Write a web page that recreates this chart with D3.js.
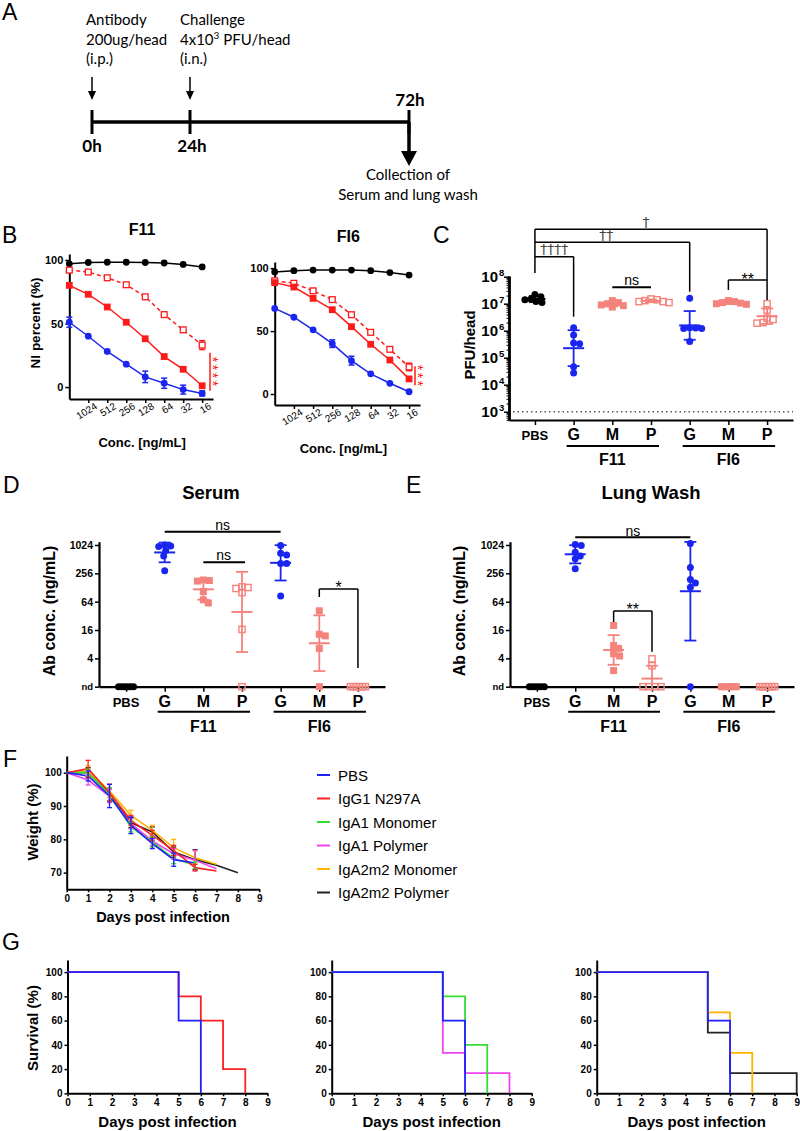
<!DOCTYPE html>
<html><head><meta charset="utf-8">
<script src="https://cdn.jsdelivr.net/npm/d3@7"></script>
<style>body{margin:0;background:#fff}</style>
</head><body>
<script>
// ================= DATA =================
// Panel A timeline (hours)
const timeHours = [0, 24, 72];
const timeLabels = ["0h", "24h", "72h"];

// Panel B (NI percent) concentration categories
const concLabels = ["2048","1024","512","256","128","64","32","16"];
const f11_black   = [97, 98, 98.2, 98.2, 98, 97.6, 96.5, 94.5];
const f11_open    = [92, 90.5, 86, 80.5, 71, 57, 45, 33];
const f11_open_sd = [1.5, 1, 1, 1, 1, 1, 1, 3.5];
const f11_filled  = [80, 73, 63, 51, 38, 24, 14, 1];
const f11_blue    = [51, 40, 28, 18, 8, 3, -2, -5];
const f11_blue_sd = [4, 1, 1, 1, 4.5, 4, 3.5, 2];
const fi6_black   = [97, 98, 98.5, 98.5, 98.5, 98, 96.5, 94.5];
const fi6_open    = [90, 88, 82, 75, 63, 49, 35.5, 21.5];
const fi6_open_sd = [1, 1, 1, 1, 1, 1, 1, 3];
const fi6_filled  = [88.5, 85, 76, 67, 53.5, 39.5, 27, 12];
const fi6_blue    = [68, 61, 51, 40, 26.5, 16, 8.5, 1.8];
const fi6_blue_sd = [1, 1, 1, 3, 3.5, 1, 1, 1];

// Panels C-E categories
const cats = ["PBS","F11 G","F11 M","F11 P","FI6 G","FI6 M","FI6 P"];
const catLabels = ["PBS","G","M","P","G","M","P"];
const groupNames = ["F11","FI6"];

// Panel C: lung virus titer (PFU/head)
const pfu_PBS  = [2.2e7, 1.8e7, 1.5e7, 1.4e7, 1.2e7, 1.1e7];
const pfu_F11G = [1.3e6, 7e5, 3.5e5, 3.3e5, 4.6e4, 2.7e4];
const pfu_F11M = [1.3e7, 1.1e7, 1.0e7, 9e6, 8.5e6, 7.5e6];
const pfu_F11P = [1.5e7, 1.4e7, 1.3e7, 1.2e7, 1.2e7, 1.1e7];
const pfu_FI6G = [1.6e7, 1.3e6, 1.25e6, 1.2e6, 1.2e6, 4e5];
const pfu_FI6M = [1.3e7, 1.2e7, 1.1e7, 1.05e7, 1.0e7, 9.5e6];
const pfu_FI6P = [1.0e7, 5.8e6, 2.9e6, 2.6e6, 2.0e6, 1.9e6];

// Panel D: serum antibody (ng/mL), "nd" = not detected
const serum_PBS  = ["nd","nd","nd","nd","nd","nd"];
const serum_F11G = [1024, 980, 950, 780, 600, 290];
const serum_F11M = [185, 175, 180, 105, 60, 70];
const serum_F11P = [132, 128, 122, 100, 16.5, "nd"];
const serum_FI6G = [1000, 680, 625, 415, 415, 84];
const serum_FI6M = [41, 13, 12, 6.5, "nd"];
const serum_FI6P = ["nd","nd","nd","nd","nd","nd"];

// Panel E: lung wash antibody (ng/mL)
const lung_PBS  = ["nd","nd","nd","nd","nd","nd"];
const lung_F11G = [1050, 1000, 720, 600, 520, 320];
const lung_F11M = [20, 7.5, 6.5, 5, 4.5, 2.2];
const lung_F11P = [3.9, 2.8, "nd","nd","nd","nd"];
const lung_FI6G = [1100, 340, 190, 160, 130, "nd"];
const lung_FI6M = ["nd","nd","nd","nd","nd","nd"];
const lung_FI6P = ["nd","nd","nd","nd","nd","nd"];

// Panel F: weight (%) by day
const seriesNames = ["PBS","IgG1 N297A","IgA1 Monomer","IgA1 Polymer","IgA2m2 Monomer","IgA2m2 Polymer"];
const w_PBS  = [100, 99, 93, 84.2, 78.7, 73.9, 72.9];
const w_IgG1 = [100, 101.2, 94, 85.7, 81.2, 76.7, 71.5, 70.5];
const w_A1M  = [100, 100, 93.5, 83.7, 79.2, 74.2, 72.2];
const w_A1P  = [100, 97.8, 93, 84.7, 79.5, 75.7, 73.7, 71.2];
const w_A2M  = [100, 100.5, 94.5, 87.2, 82.7, 77.5, 74.5, 72.5];
const w_A2P  = [100, 100, 93.5, 85, 82.2, 76.2, 73.9, 72.2, 70];
const sd_PBS  = [0, 1.5, 3.5, 2.5, 1.5, 2, 0];
const sd_IgG1 = [0, 2.5, 2.5, 1.5, 1.5, 1.5, 1, 0];
const sd_A1M  = [0, 1, 2, 1.5, 1.5, 1.5, 1];
const sd_A1P  = [0, 1.5, 2, 1.5, 1.5, 1.5, 3, 0];
const sd_A2M  = [0, 1.5, 2, 1.5, 1.5, 2.5, 2, 0];
const sd_A2P  = [0, 1.5, 2, 1.5, 1.5, 1.5, 3, 0, 0];

// Panel G: survival (%) step points [day, percent]
const surv_PBS  = [[0,100],[5,60],[6,0]];
const surv_IgG1 = [[0,100],[5,80],[6,60],[7,20],[8,0]];
const surv_A1M  = [[0,100],[5,80],[6,40],[7,0]];
const surv_A1P  = [[0,100],[5,33.3],[6,16.7],[8,0]];
const surv_A2M  = [[0,100],[5,66.7],[6,33.3],[7,0]];
const surv_A2P  = [[0,100],[5,50],[6,16.7],[9,0]];

// ================= DRAWING =================
const FONT = "'Liberation Sans', Arial, sans-serif";
const FA = "Lato, 'Open Sans', sans-serif";
const BLUE = "#1a26f0", RED = "#ff1a1a", PINK = "#f4837d";
const COLORS = ["#1f1fff", "#ff2020", "#33dd33", "#ee44ee", "#ffb300", "#222222"];

const svg = d3.select("body").append("svg")
  .attr("width", 800).attr("height", 1131)
  .attr("font-family", FONT);

function T(x, y, s, o = {}) {
  const t = svg.append("text").attr("x", x).attr("y", y).text(s)
    .attr("font-size", o.size || 12)
    .attr("font-weight", o.bold ? "bold" : "normal")
    .attr("text-anchor", o.anchor || "start")
    .attr("fill", o.fill || "#000");
  if (o.rotate) t.attr("transform", `rotate(${o.rotate},${x},${y})`);
  if (o.family) t.attr("font-family", o.family);
  if (o.ls) t.attr("letter-spacing", o.ls);
  return t;
}
function L(x1, y1, x2, y2, o = {}) {
  const l = svg.append("line").attr("x1", x1).attr("y1", y1).attr("x2", x2).attr("y2", y2)
    .attr("stroke", o.color || "#000").attr("stroke-width", o.w || 1.5);
  if (o.dash) l.attr("stroke-dasharray", o.dash);
  return l;
}
function styleAxis(g, o = {}) {
  g.select(".domain").attr("stroke-width", o.dw || 2).attr("stroke", "#000");
  g.selectAll(".tick line").attr("stroke-width", o.tw || 1.5).attr("stroke", "#000");
  g.selectAll(".tick text").attr("font-size", o.fs || 10).attr("font-weight", o.bold === false ? "normal" : "bold")
    .attr("font-family", FONT).attr("fill", "#000");
}
function letter(x, y, s) { T(x, y, s, { size: 23 }); }

// ---------- Panel A ----------
letter(2, 20, "A");
const tx = d3.scaleLinear().domain(timeHours).range([92, 190, 409]);
const ty = 122;
T(86, 25, "Antibody", { size: 15, family: FA });
T(86, 45, "200ug/head", { size: 15, family: FA });
T(86, 64, "(i.p.)", { size: 15, family: FA });
T(180, 25, "Challenge", { size: 15, family: FA });
const ch = T(180, 45, "", { size: 15, family: FA });
ch.append("tspan").text("4x10");
ch.append("tspan").attr("dy", -6).attr("font-size", 10).text("3");
ch.append("tspan").attr("dy", 6).text(" PFU/head");
T(180, 64, "(i.n.)", { size: 15, family: FA });
[0, 24].forEach(h => {
  const x = tx(h);
  L(x, 77, x, 93, { w: 1.5 });
  svg.append("path").attr("d", `M${x-4},91 L${x+4},91 L${x},100 Z`).attr("fill", "#000");
});
L(tx(0), ty, tx(72), ty, { w: 3.5 });
timeHours.forEach(h => L(tx(h), 110, tx(h), 134, { w: 3 }));
T(tx(0), 152, timeLabels[0], { size: 17, bold: true, anchor: "middle", family: FA });
T(tx(24) + 2, 152, timeLabels[1], { size: 17, bold: true, anchor: "middle", family: FA });
T(tx(72) + 1, 106, timeLabels[2], { size: 17, bold: true, anchor: "middle", family: FA });
L(tx(72), ty, tx(72), 152, { w: 3.5 });
svg.append("path").attr("d", `M${tx(72)-8},151 L${tx(72)+8},151 L${tx(72)},166 Z`).attr("fill", "#000");
T(408, 180, "Collection of", { size: 15, anchor: "middle", family: FA });
T(408, 200, "Serum and lung wash", { size: 15, anchor: "middle", family: FA });

// ---------- Panel B ----------
letter(2, 243, "B");
function panelB(o) {
  const x = d3.scaleLinear().domain([0, 7.57]).range([o.x0, o.x1]);
  const y = d3.scaleLinear().domain(o.ydom).range([o.yb, o.yt]);
  const gy = svg.append("g").attr("transform", `translate(${o.x0},0)`)
    .call(d3.axisLeft(y).tickValues([0, 50, 100]).tickSize(4).tickSizeOuter(0).tickPadding(2));
  styleAxis(gy, { fs: 11 });
  const gx = svg.append("g").attr("transform", `translate(0,${o.yb})`)
    .call(d3.axisBottom(x).tickValues([1,2,3,4,5,6,7]).tickFormat(i => concLabels[i]).tickSize(4).tickSizeOuter(0));
  styleAxis(gx, { fs: 10, bold: false });
  gx.selectAll(".tick text").attr("text-anchor", "end").attr("x", 3).attr("y", 9).attr("dy", "0.35em")
    .attr("transform", "rotate(-32)");
  const series = [
    { v: o.black, sd: null, color: "#000", shape: "circle", dash: null },
    { v: o.open, sd: o.openSd, color: RED, shape: "open", dash: "4,3" },
    { v: o.filled, sd: null, color: RED, shape: "sq", dash: null },
    { v: o.blue, sd: o.blueSd, color: BLUE, shape: "circle", dash: null }
  ];
  const line = d3.line().x((d, i) => x(i)).y(d => y(d));
  series.forEach(s => {
    const p = svg.append("path").attr("d", line(s.v)).attr("fill", "none").attr("stroke", s.color).attr("stroke-width", 1.5);
    if (s.dash) p.attr("stroke-dasharray", s.dash);
  });
  series.forEach(s => {
    s.v.forEach((v, i) => {
      const cx = x(i), cy = y(v);
      if (s.sd && s.sd[i] > 1.5) {
        L(cx, y(v - s.sd[i]), cx, y(v + s.sd[i]), { color: s.color, w: 1.5 });
        L(cx - 3, y(v - s.sd[i]), cx + 3, y(v - s.sd[i]), { color: s.color, w: 1.5 });
        L(cx - 3, y(v + s.sd[i]), cx + 3, y(v + s.sd[i]), { color: s.color, w: 1.5 });
      }
      if (s.shape === "circle") svg.append("circle").attr("cx", cx).attr("cy", cy).attr("r", 3.4).attr("fill", s.color);
      else if (s.shape === "sq") svg.append("rect").attr("x", cx - 3.4).attr("y", cy - 3.4).attr("width", 6.8).attr("height", 6.8).attr("fill", s.color);
      else svg.append("rect").attr("x", cx - 2.9).attr("y", cy - 2.9).attr("width", 5.8).attr("height", 5.8).attr("fill", "#fff").attr("stroke", s.color).attr("stroke-width", 1.3);
    });
  });
  T((o.x0 + o.x1) / 2 + 1, o.titleY, o.title, { size: 16, bold: true, anchor: "middle" });
  T((o.x0 + o.x1) / 2 + o.concDx, o.concY, "Conc. [ng/mL]", { size: 13, bold: true, anchor: "middle" });
  // significance: vertical line + stacked (rotated) asterisks
  const y0 = y(o.sigRange[0]), y1 = y(o.sigRange[1]);
  L(o.sigX, y0, o.sigX, y1, { color: RED, w: 1.5 });
  T(o.sigX - 2.5, (y0 + y1) / 2 + 1, "*".repeat(o.stars), { size: 14, fill: RED, anchor: "middle", rotate: 90, ls: 2.6 });
  return { x, y };
}
panelB({ x0: 69.3, x1: 213, yb: 399, yt: 254, ydom: [-9.4, 104.7], black: f11_black, open: f11_open, openSd: f11_open_sd,
  filled: f11_filled, blue: f11_blue, blueSd: f11_blue_sd, title: "F11", titleY: 235, concY: 447, concDx: 1,
  sigX: 210, sigRange: [-3, 27], stars: 4 });
panelB({ x0: 274.7, x1: 420, yb: 405, yt: 262, ydom: [-8.75, 104.9], black: fi6_black, open: fi6_open, openSd: fi6_open_sd,
  filled: fi6_filled, blue: fi6_blue, blueSd: fi6_blue_sd, title: "FI6", titleY: 242, concY: 453, concDx: -4,
  sigX: 415, sigRange: [7, 22], stars: 3 });
T(40, 323, "NI percent (%)", { size: 13.5, bold: true, anchor: "middle", rotate: -90 });

// ---------- Shared scatter helpers ----------
function catColor(i) { return i === 0 ? "#000" : (i === 1 || i === 4) ? BLUE : PINK; }
function catShape(i) { return (i === 0 || i === 1 || i === 4) ? "circle" : (i === 2 || i === 5) ? "sq" : "open"; }
function marker(shape, color, cx, cy) {
  if (shape === "circle") svg.append("circle").attr("cx", cx).attr("cy", cy).attr("r", 3.5).attr("fill", color);
  else if (shape === "sq") svg.append("rect").attr("x", cx - 3.5).attr("y", cy - 3.5).attr("width", 7).attr("height", 7).attr("fill", color);
  else svg.append("rect").attr("x", cx - 3.1).attr("y", cy - 3.1).attr("width", 6.2).attr("height", 6.2).attr("fill", "none").attr("stroke", color).attr("stroke-width", 1.4);
}
function layout(vals, toY, cx, ndY) {
  const det = vals.filter(v => v !== "nd").map(v => ({ v, y: toY(v) })).sort((a, b) => a.y - b.y);
  const placed = [];
  det.forEach(p => {
    for (let k = 0; k < 80; k++) {
      const off = (k % 2 ? 1 : -1) * Math.ceil(k / 2);
      const xx = cx + off;
      if (placed.every(q => Math.hypot(q.x - xx, q.y - p.y) >= 5.6)) { p.x = xx; placed.push(p); break; }
    }
  });
  const nds = vals.filter(v => v === "nd");
  const sp = nds.length <= 4 ? 6 : 3;
  nds.forEach((v, i) => placed.push({ v, x: cx + (i - (nds.length - 1) / 2) * sp, y: ndY }));
  return placed;
}
function scatterPanel(o) {
  const x = d3.scalePoint().domain(cats).range([o.x0, o.x1]).padding(o.pad);
  const y = o.y;
  const gx = svg.append("g").attr("transform", `translate(0,${o.yb})`)
    .call(d3.axisBottom(x).tickSize(5).tickSizeOuter(0).tickFormat(""));
  styleAxis(gx, { dw: 2.2 });
  cats.forEach((c, i) => T(x(c), o.labY, catLabels[i], { size: i === 0 ? 13 : 16, bold: true, anchor: "middle" }));
  [[1, 3], [4, 6]].forEach((gi, k) => {
    L(x(cats[gi[0]]) - 7, o.ulY, x(cats[gi[1]]) + 8, o.ulY, { w: 2 });
    T(x(cats[gi[0] + 1]), o.grpY, groupNames[k], { size: 16, bold: true, anchor: "middle" });
  });
  o.groups.forEach((vals, i) => {
    const cx = x(cats[i]);
    const pts = layout(vals, v => y(v), cx, y(o.ndVal));
    pts.forEach(p => marker(catShape(i), catColor(i), p.x, p.y));
  });
  o.groups.forEach((vals, i) => {
    const cx = x(cats[i]);
    const logs = vals.map(v => v === "nd" ? Math.log(o.ndVal) / Math.log(o.base) : Math.log(v) / Math.log(o.base));
    const m = d3.mean(logs), sd = logs.length > 1 ? d3.deviation(logs) : 0;
    const col = catColor(i);
    const ym = y(Math.pow(o.base, m));
    L(cx - 10.5, ym, cx + 10.5, ym, { color: col, w: 2 });
    if (sd > 0) {
      const hi = y(Math.pow(o.base, m + sd));
      const lo = Math.min(o.yb, y(Math.max(o.ndVal, Math.pow(o.base, m - sd))));
      L(cx, hi, cx, lo, { color: col, w: 1.8 });
      L(cx - 6, hi, cx + 6, hi, { color: col, w: 1.8 });
      if (lo < o.yb - 1) L(cx - 6, lo, cx + 6, lo, { color: col, w: 1.8 });
    }
  });
  return x;
}

// ---------- Panel C ----------
letter(433, 243, "C");
const yC = d3.scaleLog().domain([Math.pow(10, 2.693), Math.pow(10, 8.026)]).range([420, 276]);
{
  const minors = [];
  for (let e = 2; e <= 7; e++) for (let m = 2; m <= 9; m++) { const v = m * Math.pow(10, e); if (v > yC.domain()[0] && v < yC.domain()[1]) minors.push(v); }
  const gm = svg.append("g").attr("transform", "translate(509,0)")
    .call(d3.axisLeft(yC).tickValues(minors).tickSize(2.5).tickSizeOuter(0).tickFormat(""));
  styleAxis(gm, { dw: 2.4, tw: 1 });
  const gM = svg.append("g").attr("transform", "translate(509,0)")
    .call(d3.axisLeft(yC).tickValues([1e3, 1e4, 1e5, 1e6, 1e7, 1e8]).tickSize(5).tickSizeOuter(0).tickFormat(""));
  styleAxis(gM, { dw: 2.4, tw: 1.5 });
  [3, 4, 5, 6, 7, 8].forEach(e => {
    const yy = yC(Math.pow(10, e));
    T(498, yy + 5, "10", { size: 15, bold: true, anchor: "end" });
    T(499, yy - 0.5, String(e), { size: 9.5, bold: true });
  });
}
L(513, yC(1e3), 793, yC(1e3), { color: "#555", w: 1.4, dash: "1.5,3" });
const xC = scatterPanel({ x0: 509, x1: 793, pad: 0.67, y: yC, yb: 420, labY: 440, ulY: 446, grpY: 465, base: 10, ndVal: 1e3,
  groups: [pfu_PBS, pfu_F11G, pfu_F11M, pfu_F11P, pfu_FI6G, pfu_FI6M, pfu_FI6P] });
T(475, 345, "PFU/head", { size: 15, bold: true, anchor: "middle", rotate: -90 });
{
  const xp = xC("PBS");
  const b1 = 256.7, b2 = 242.3, b3 = 229.3;
  const DAG = { size: 14, anchor: "middle", fill: "#444", family: "'DejaVu Sans', sans-serif" };
  L(xp, b3, xp, 273);
  L(xp, b1, xC("F11 G"), b1); L(xC("F11 G"), b1, xC("F11 G"), 316.7);
  L(xp, b2, xC("FI6 G"), b2); L(xC("FI6 G"), b2, xC("FI6 G"), 291.7);
  L(xp, b3, xC("FI6 P"), b3); L(xC("FI6 P"), b3, xC("FI6 P"), 300);
  T((xp + xC("F11 G")) / 2, b1 - 2.5, "††††", DAG);
  T((xp + xC("FI6 G")) / 2 - 6, b2 - 2.5, "††", DAG);
  T((xp + xC("FI6 P")) / 2 - 5, b3 - 2.5, "†", DAG);
  L(xC("F11 M"), 287.3, xC("F11 P"), 287.3, { w: 2 });
  T((xC("F11 M") + xC("F11 P")) / 2, 284.5, "ns", { size: 14, anchor: "middle" });
  L(xC("FI6 M"), 280, xC("FI6 P"), 280); L(xC("FI6 M"), 280, xC("FI6 M"), 290);
  T((xC("FI6 M") + xC("FI6 P")) / 2, 285, "**", { size: 16, anchor: "middle" });
}

// ---------- Panels D & E ----------
function abPanel(o) {
  const y = d3.scaleLog().base(2).domain([1, 1203]).range([686.7, 541.7]);
  const g = svg.append("g").attr("transform", `translate(${o.x0},0)`)
    .call(d3.axisLeft(y).tickValues([1, 4, 16, 64, 256, 1024]).tickSize(4).tickSizeOuter(0).tickPadding(2)
      .tickFormat(v => v === 1 ? "nd" : String(v)));
  styleAxis(g, { fs: 10.5, dw: 2.2 });
  g.selectAll(".tick text").filter(v => v === 1).attr("font-size", 9.5);
  const x = scatterPanel({ x0: o.x0, x1: o.x1, pad: 0.7, y, yb: 686.7, labY: 706.7, ulY: 711.7, grpY: 731.7, base: 2, ndVal: 1, groups: o.groups });
  T(o.labX, 611, "Ab conc. (ng/mL)", { size: 16, bold: true, anchor: "middle", rotate: -90 });
  T(o.titleX, 499, o.title, { size: 18.5, bold: true, anchor: "middle" });
  return { x, y };
}
letter(3, 493, "D");
const D = abPanel({ x0: 99, x1: 385, labX: 55, titleX: 211, title: "Serum",
  groups: [serum_PBS, serum_F11G, serum_F11M, serum_F11P, serum_FI6G, serum_FI6M, serum_FI6P] });
L(D.x("F11 G"), 531.7, D.x("FI6 G"), 531.7, { w: 2 });
T((D.x("F11 G") + D.x("FI6 G")) / 2, 529.5, "ns", { size: 14, anchor: "middle" });
L(D.x("F11 M"), 562.3, D.x("F11 P") + 3, 562.3, { w: 2 });
T((D.x("F11 M") + D.x("F11 P")) / 2 + 1, 560, "ns", { size: 14, anchor: "middle" });
L(D.x("FI6 M"), 589, D.x("FI6 P"), 589); L(D.x("FI6 M"), 589, D.x("FI6 M"), 597); L(D.x("FI6 P"), 589, D.x("FI6 P"), 668);
T((D.x("FI6 M") + D.x("FI6 P")) / 2, 593, "*", { size: 16, anchor: "middle" });

letter(406, 493, "E");
const E = abPanel({ x0: 510, x1: 794, labX: 465, titleX: 651, title: "Lung Wash",
  groups: [lung_PBS, lung_F11G, lung_F11M, lung_F11P, lung_FI6G, lung_FI6M, lung_FI6P] });
L(E.x("F11 G"), 537.3, E.x("FI6 G"), 537.3, { w: 2 });
T((E.x("F11 G") + E.x("FI6 G")) / 2, 535.5, "ns", { size: 14, anchor: "middle" });
L(E.x("F11 M"), 611, E.x("F11 P"), 611); L(E.x("F11 M"), 611, E.x("F11 M"), 622); L(E.x("F11 P"), 611, E.x("F11 P"), 651.7);
T((E.x("F11 M") + E.x("F11 P")) / 2, 615, "**", { size: 16, anchor: "middle" });

// ---------- Panel F ----------
letter(3, 767, "F");
const xF = d3.scaleLinear().domain([0, 9]).range([66.7, 259.3]);
const yF = d3.scaleLinear().domain([65, 105]).range([889.3, 756]);
{
  const gx = svg.append("g").attr("transform", "translate(0,889.3)")
    .call(d3.axisBottom(xF).ticks(9).tickSize(3).tickSizeOuter(0).tickPadding(3));
  styleAxis(gx, { fs: 10 });
  const gy = svg.append("g").attr("transform", "translate(66.7,0)")
    .call(d3.axisLeft(yF).tickValues([70, 80, 90, 100]).tickSize(3).tickSizeOuter(0).tickPadding(2));
  styleAxis(gy, { fs: 10 });
  const wts = [w_PBS, w_IgG1, w_A1M, w_A1P, w_A2M, w_A2P];
  const sds = [sd_PBS, sd_IgG1, sd_A1M, sd_A1P, sd_A2M, sd_A2P];
  const line = d3.line().x((d, i) => xF(i)).y(d => yF(d));
  const order = [5, 4, 3, 2, 1, 0];
  order.forEach(k => {
    svg.append("path").attr("d", line(wts[k])).attr("fill", "none").attr("stroke", COLORS[k]).attr("stroke-width", 1.6);
  });
  order.forEach(k => {
    wts[k].forEach((v, i) => {
      const s = sds[k][i]; if (!s) return;
      const cx = xF(i);
      L(cx, yF(v - s), cx, yF(v + s), { color: COLORS[k], w: 1.3 });
      L(cx - 2.5, yF(v - s), cx + 2.5, yF(v - s), { color: COLORS[k], w: 1.3 });
      L(cx - 2.5, yF(v + s), cx + 2.5, yF(v + s), { color: COLORS[k], w: 1.3 });
    });
  });
  T(163, 921.7, "Days post infection", { size: 14.5, bold: true, anchor: "middle" });
  T(38, 822, "Weight (%)", { size: 15, bold: true, anchor: "middle", rotate: -90 });
  seriesNames.forEach((n, k) => {
    const yy = 775 + k * 23.5;
    L(317, yy, 330, yy, { color: COLORS[k], w: 2 });
    T(338, yy + 5.5, n, { size: 15 });
  });
}

// ---------- Panel G ----------
letter(2, 950, "G");
const yG = d3.scaleLinear().domain([0, 110]).range([1093.3, 960]);
function survPanel(x0, series) {
  const x = d3.scaleLinear().domain([0, 9]).range([x0, x0 + 200]);
  const gx = svg.append("g").attr("transform", "translate(0,1093.3)")
    .call(d3.axisBottom(x).ticks(9).tickSize(3).tickSizeOuter(0).tickPadding(3));
  styleAxis(gx, { fs: 10 });
  const gy = svg.append("g").attr("transform", `translate(${x0},0)`)
    .call(d3.axisLeft(yG).tickValues([0, 20, 40, 60, 80, 100]).tickSize(3).tickSizeOuter(0).tickPadding(2));
  styleAxis(gy, { fs: 10 });
  const line = d3.line().x(d => x(d[0])).y(d => yG(d[1])).curve(d3.curveStepAfter);
  series.forEach(s => {
    svg.append("path").attr("d", line(s.data)).attr("fill", "none").attr("stroke", s.color).attr("stroke-width", 1.8);
  });
  T(x0 + 100, 1126.5, "Days post infection", { size: 15, bold: true, anchor: "middle" });
}
survPanel(67.5, [{ data: surv_IgG1, color: COLORS[1] }, { data: surv_PBS, color: COLORS[0] }]);
survPanel(331.7, [{ data: surv_A1P, color: COLORS[3] }, { data: surv_A1M, color: COLORS[2] }, { data: surv_PBS, color: COLORS[0] }]);
survPanel(596.7, [{ data: surv_A2P, color: COLORS[5] }, { data: surv_A2M, color: COLORS[4] }, { data: surv_PBS, color: COLORS[0] }]);
T(38, 1028, "Survival (%)", { size: 15, bold: true, anchor: "middle", rotate: -90 });
</script>
</body></html>
